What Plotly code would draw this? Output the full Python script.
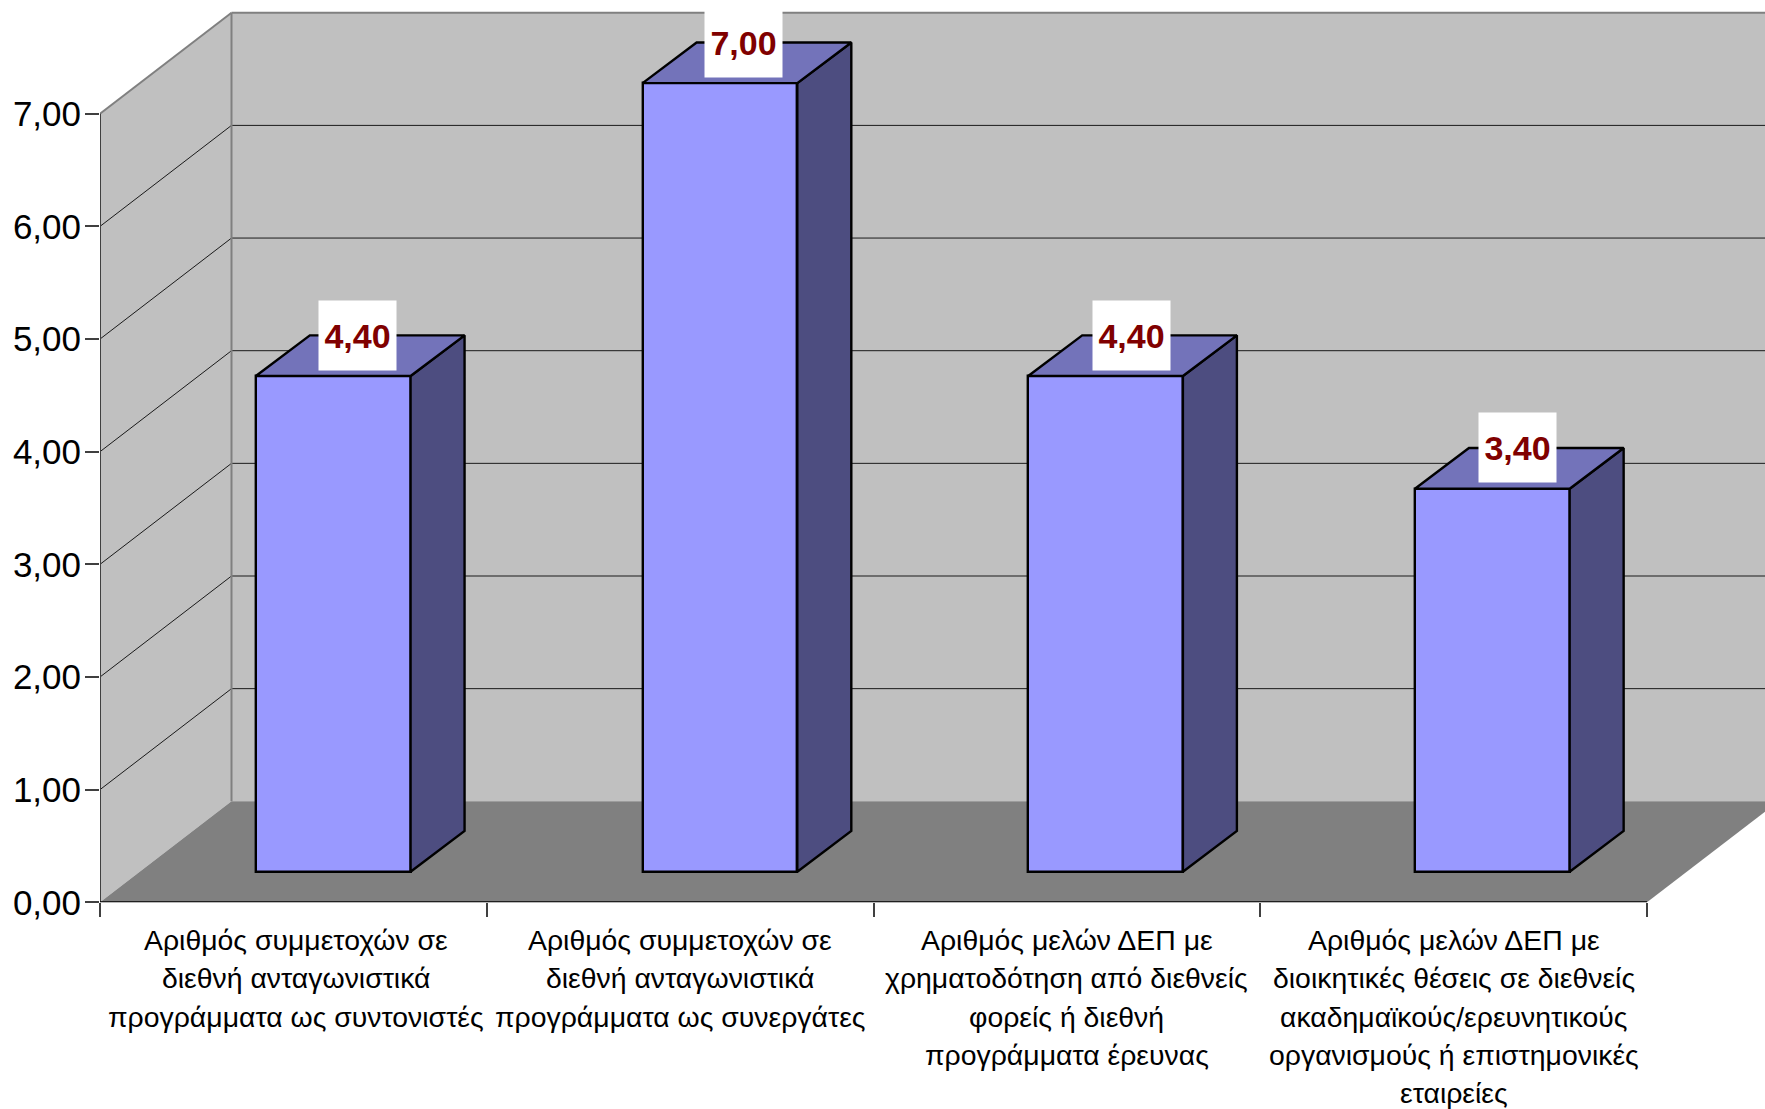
import plotly.graph_objects as go

# ---- data ----
category_lines = [
    ["Αριθμός συμμετοχών σε", "διεθνή ανταγωνιστικά", "προγράμματα ως συντονιστές"],
    ["Αριθμός συμμετοχών σε", "διεθνή ανταγωνιστικά", "προγράμματα ως συνεργάτες"],
    ["Αριθμός μελών ΔΕΠ με", "χρηματοδότηση από διεθνείς", "φορείς ή διεθνή", "προγράμματα έρευνας"],
    ["Αριθμός μελών ΔΕΠ με", "διοικητικές θέσεις σε διεθνείς", "ακαδημαϊκούς/ερευνητικούς",
     "οργανισμούς ή επιστημονικές", "εταιρείες"],
]
values = [4.40, 7.00, 4.40, 3.40]
value_labels = ["4,40", "7,00", "4,40", "3,40"]
y_ticks = [0, 1, 2, 3, 4, 5, 6, 7]
y_ticktext = ["0,00", "1,00", "2,00", "3,00", "4,00", "5,00", "6,00", "7,00"]

# ---- geometry (axis units) ----
W, H = 1765, 1109
X0_PX, Y0_PX = 100.0, 902.3          # plot origin
PX_X, PX_Y = 386.75, 112.65          # pixels per category / per value unit
XMAX = (W - X0_PX) / PX_X
YMAX = Y0_PX / PX_Y
WALL_DX, WALL_DY = 131.5 / PX_X, 101.0 / PX_Y
BAR_DX, BAR_DY = 54.0 / PX_X, 40.7 / PX_Y
BAR_BASE = 30.6 / PX_Y
BAR_W = 0.40
BAR_C = [0.603, 1.603, 2.60, 3.60]
LABEL_X = [0.506, 1.50, 2.50, 3.50]
VALUE_LABEL_DX = [-0.006, -0.010, -0.004, -0.004]
N = len(category_lines)
LABEL_Y0_PX, LABEL_STEP_PX = 940.0, 38.3

WALL = "#C0C0C0"
FLOOR = "#808080"
FRONT = "#9999FF"
SIDE = "#4D4D80"
TOP = "#7373BA"
EDGE = dict(color="#000000", width=2.4)


def poly(pts):
    return "M" + " L".join(f"{x},{y}" for x, y in pts) + " Z"


shapes = []
vtop = y_ticks[-1]
# back wall, extending past the right edge
shapes.append(dict(type="rect", x0=WALL_DX, x1=XMAX, y0=WALL_DY, y1=vtop + WALL_DY,
                   fillcolor=WALL, line=dict(width=0), layer="below"))
# left wall
shapes.append(dict(type="path", path=poly([(0, 0), (WALL_DX, WALL_DY), (WALL_DX, vtop + WALL_DY), (0, vtop)]),
                   fillcolor=WALL, line=dict(width=0), layer="below"))
# floor
shapes.append(dict(type="path", path=poly([(0, 0), (N, 0), (N + WALL_DX, WALL_DY), (WALL_DX, WALL_DY)]),
                   fillcolor=FLOOR, line=dict(width=0), layer="below"))
# gridlines
for v in y_ticks[1:-1]:
    shapes.append(dict(type="path", path=f"M0,{v} L{WALL_DX},{v + WALL_DY} L{XMAX},{v + WALL_DY}",
                       line=dict(color="#1A1A1A", width=1), layer="below"))
# frame lines
gray = dict(color="#808080", width=2)
shapes.append(dict(type="line", x0=WALL_DX, x1=WALL_DX, y0=WALL_DY, y1=vtop + WALL_DY, line=gray, layer="below"))
shapes.append(dict(type="line", x0=WALL_DX, x1=XMAX, y0=vtop + WALL_DY, y1=vtop + WALL_DY, line=gray, layer="below"))
shapes.append(dict(type="line", x0=0, x1=WALL_DX, y0=vtop, y1=vtop + WALL_DY, line=gray, layer="below"))
shapes.append(dict(type="line", x0=0, x1=0, y0=0, y1=vtop, line=dict(color="#404040", width=2), layer="below"))
shapes.append(dict(type="line", x0=0, x1=N, y0=0, y1=0, line=dict(color="#000000", width=2), layer="above"))

fig = go.Figure()

fig.add_trace(go.Bar(
    x=BAR_C, y=values, base=BAR_BASE, width=BAR_W,
    marker=dict(color=FRONT, line=EDGE),
    hoverinfo="skip", showlegend=False,
))

annotations = []
for c, v, t, ldx in zip(BAR_C, values, value_labels, VALUE_LABEL_DX):
    xl, xr = c - BAR_W / 2, c + BAR_W / 2
    top = BAR_BASE + v
    # side face
    fig.add_trace(go.Scatter(
        x=[xr, xr + BAR_DX, xr + BAR_DX, xr, xr],
        y=[BAR_BASE, BAR_BASE + BAR_DY, top + BAR_DY, top, BAR_BASE],
        mode="lines", fill="toself", fillcolor=SIDE,
        line=EDGE, hoverinfo="skip", showlegend=False,
    ))
    # top face
    fig.add_trace(go.Scatter(
        x=[xl, xr, xr + BAR_DX, xl + BAR_DX, xl],
        y=[top, top, top + BAR_DY, top + BAR_DY, top],
        mode="lines", fill="toself", fillcolor=TOP,
        line=EDGE, hoverinfo="skip", showlegend=False,
    ))
    annotations.append(dict(
        x=c + BAR_DX / 2 + ldx, y=top + BAR_DY, xref="x", yref="y", text=f"<b>{t}</b>",
        showarrow=False, width=75, height=67, bgcolor="#FFFFFF", align="center", valign="middle",
        font=dict(family="Liberation Sans", size=34, color="#800000"),
    ))

# category labels, one annotation per line so the line pitch can follow the reference
for lx, lines in zip(LABEL_X, category_lines):
    for j, line in enumerate(lines):
        annotations.append(dict(
            x=lx, y=1 - (LABEL_Y0_PX + j * LABEL_STEP_PX) / H, xref="x", yref="paper",
            text=line, showarrow=False, xanchor="center", yanchor="middle",
            font=dict(family="Liberation Sans", size=28.4, color="#000000"),
        ))

fig.update_layout(
    width=W, height=H, margin=dict(l=0, r=0, t=0, b=0),
    paper_bgcolor="#FFFFFF", plot_bgcolor="#FFFFFF",
    font=dict(family="Liberation Sans", color="#000000"),
    shapes=shapes, annotations=annotations, showlegend=False, bargap=0,
    xaxis=dict(
        domain=[X0_PX / W, 1], range=[0, XMAX], showgrid=False, zeroline=False, showline=False,
        automargin=False, tickmode="array", tickvals=list(range(N + 1)), ticktext=[""] * (N + 1),
        ticks="outside", ticklen=14, tickwidth=1.5, tickcolor="#404040",
    ),
    yaxis=dict(
        domain=[(H - Y0_PX) / H, 1], range=[0, YMAX], showgrid=False, zeroline=False, showline=False,
        automargin=False, tickmode="array", tickvals=y_ticks, ticktext=y_ticktext,
        ticks="outside", ticklen=14, tickwidth=1.5, tickcolor="#404040",
        tickfont=dict(size=35), ticklabelstandoff=-3,
    ),
)

fig.write_html(
    "out.html",
    config={"displayModeBar": False},
    post_script="document.body.style.margin='0';document.body.style.overflow='hidden';",
)
